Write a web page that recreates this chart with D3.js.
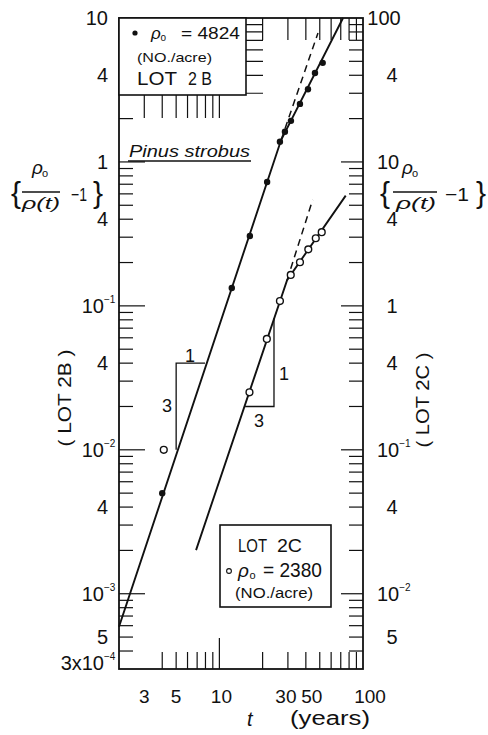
<!DOCTYPE html>
<html>
<head>
<meta charset="utf-8">
<script src="https://d3js.org/d3.v7.min.js"></script>
<style>
    body { margin: 0; background: #fff; }
    svg text { font-family: "Liberation Sans", Arial, sans-serif; fill: #111; }
</style>
</head>
<body>
<div id="chart"></div>
<script>
// LOT 2B (filled dots), read on the left axis
var lot2B_t = [4, 12.2, 16.3, 21.5, 26.4, 28.6, 31.5, 36.4, 41.4, 46.3, 52.4];
var lot2B_v = [0.005, 0.133, 0.306, 0.726, 1.38, 1.62, 1.93, 2.53, 3.2, 4.15, 4.88];
// fitted lines for LOT 2B: solid (two slopes) and dashed slope-3 continuation
var lot2B_line_t = [2, 26.9, 72.6];
var lot2B_line_v = [5.9e-4, 1.42, 10];
var lot2B_dash_t = [26.9, 48.6];
var lot2B_dash_v = [1.42, 7.88];

// LOT 2C (open circles), read on the right axis
var lot2C_t = [4.1, 16.2, 21.4, 26.4, 31.4, 36.4, 41.6, 46.9, 51.6];
var lot2C_v = [0.1, 0.251, 0.589, 1.08, 1.64, 2.01, 2.47, 2.95, 3.25];
var lot2C_line_t = [6.88, 29.6, 75.8];
var lot2C_line_v = [0.0201, 1.51, 5.83];
var lot2C_dash_t = [29.6, 44.6];
var lot2C_dash_v = [1.51, 5.45];

// slope triangles (3 : 1)
var tri2B_t = [5, 5, 7.94];
var tri2B_v = [0.01, 0.04, 0.04];
var tri2C_t = [15.1, 24, 24];
var tri2C_v = [0.2, 0.2, 0.82];

// tick labels
var leftTickVals = [10, 4, 1, 0.4, 0.1, 0.04, 0.01, 0.004, 0.001, 5e-4, 3e-4];
var leftTickText = ["10", "4", "1", "4", "10|−1", "4", "10|−2", "4", "10|−3", "5", "3x10|−4"];
var rightTickVals = [100, 40, 10, 4, 1, 0.4, 0.1, 0.04, 0.01, 0.005];
var rightTickText = ["100", "4", "10", "4", "1", "4", "10|−1", "4", "10|−2", "5"];
var xTickVals = [3, 5, 10, 30, 50, 100];
var xTickText = ["3", "5", "10", "30", "50", "100"];
var topTickVals = [3, 4, 5, 6, 7, 8, 9, 10, 20, 30, 40, 50, 60, 70, 80, 90];
var bottomTickVals = [4, 5, 6, 7, 8, 9, 10, 20, 30, 40, 50, 60, 70, 80, 90];

var W = 488, H = 735;
var L = 119, R = 363, T = 18, B = 669;

var x = d3.scaleLog().domain([2, 100]).range([L, R]);
var yL = d3.scaleLog().domain([3e-4, 10]).range([B, T]);
var yR = d3.scaleLog().domain([3e-3, 100]).range([B, T]);

var svg = d3.select("#chart").append("svg").attr("width", W).attr("height", H);
var ink = "#111";

function decadeTicks(lo, hi) {
    var out = [];
    for (var k = -5; k <= 3; k++) {
        for (var m = 1; m <= 9; m++) {
            var v = +(m * Math.pow(10, k)).toPrecision(3);
            if (v > lo * 1.001 && v < hi * 0.999) out.push({ v: v, m: m, k: k });
        }
    }
    return out;
}

var ticks = svg.append("g").attr("stroke", ink).attr("stroke-width", 1.2);

// left axis ticks (inward)
decadeTicks(3e-4, 10).forEach(function (d) {
    var len = d.m === 1 ? 26 : 14;
    if (d.k === 0 && d.m >= 3) len = 144;   // run under the legend box
    ticks.append("line").attr("x1", L).attr("x2", L + len)
        .attr("y1", yL(d.v)).attr("y2", yL(d.v));
});
// right axis ticks (inward)
decadeTicks(3e-3, 100).forEach(function (d) {
    var len = d.m === 1 ? 22 : 14;
    ticks.append("line").attr("x1", R).attr("x2", R - len)
        .attr("y1", yR(d.v)).attr("y2", yR(d.v));
});
// top ticks
topTickVals.forEach(function (t) {
    var len = t <= 10 ? 100 : 22;
    ticks.append("line").attr("x1", x(t)).attr("x2", x(t)).attr("y1", T).attr("y2", T + len);
});
// bottom ticks
bottomTickVals.forEach(function (t) {
    var len = t === 10 ? 31 : 17;
    ticks.append("line").attr("x1", x(t)).attr("x2", x(t)).attr("y1", B).attr("y2", B - len);
});

// frame
svg.append("rect").attr("x", L).attr("y", T).attr("width", R - L).attr("height", B - T)
    .attr("fill", "none").attr("stroke", ink).attr("stroke-width", 1.8);

// top legend box (covers part of the ticks)
var box1 = svg.append("g");
box1.append("rect").attr("x", L).attr("y", T).attr("width", 127).attr("height", 77)
    .attr("fill", "#fff").attr("stroke", ink).attr("stroke-width", 1.6);
box1.append("circle").attr("cx", 135).attr("cy", 33).attr("r", 2.6).attr("fill", ink);
box1.append("text").attr("x", 151).attr("y", 39).style("font-size", "17px").style("font-style", "italic").text("ρ");
box1.append("text").attr("x", 160.5).attr("y", 41).style("font-size", "10px").text("o");
box1.append("text").attr("x", 181).attr("y", 39).style("font-size", "16px")
    .attr("textLength", 59).attr("lengthAdjust", "spacingAndGlyphs").text("= 4824");
box1.append("text").attr("x", 137).attr("y", 62).style("font-size", "13px")
    .attr("textLength", 75).attr("lengthAdjust", "spacingAndGlyphs").text("(NO./acre)");
box1.append("text").attr("x", 137).attr("y", 85).style("font-size", "18px")
    .attr("textLength", 40).attr("lengthAdjust", "spacingAndGlyphs").text("LOT");
box1.append("text").attr("x", 188).attr("y", 85).style("font-size", "18px")
    .attr("textLength", 24).attr("lengthAdjust", "spacingAndGlyphs").text("2 B");

// bottom legend box
var box2 = svg.append("g");
box2.append("rect").attr("x", 220).attr("y", 525).attr("width", 111).attr("height", 82)
    .attr("fill", "#fff").attr("stroke", ink).attr("stroke-width", 1.6);
box2.append("text").attr("x", 238).attr("y", 552).style("font-size", "19px")
    .attr("textLength", 29).attr("lengthAdjust", "spacingAndGlyphs").text("LOT");
box2.append("text").attr("x", 277).attr("y", 552).style("font-size", "19px")
    .attr("textLength", 25).attr("lengthAdjust", "spacingAndGlyphs").text("2C");
box2.append("circle").attr("cx", 229).attr("cy", 571).attr("r", 2.4)
    .attr("fill", "#fff").attr("stroke", ink).attr("stroke-width", 1.1);
box2.append("text").attr("x", 238).attr("y", 577).style("font-size", "19px").style("font-style", "italic").text("ρ");
box2.append("text").attr("x", 249.5).attr("y", 579).style("font-size", "11px").text("o");
box2.append("text").attr("x", 263).attr("y", 577).style("font-size", "20px")
    .attr("textLength", 59).attr("lengthAdjust", "spacingAndGlyphs").text("= 2380");
box2.append("text").attr("x", 235).attr("y", 598).style("font-size", "14px")
    .attr("textLength", 78).attr("lengthAdjust", "spacingAndGlyphs").text("(NO./acre)");

// Pinus strobus
svg.append("text").attr("x", 129).attr("y", 157).style("font-size", "17px").style("font-style", "italic")
    .attr("textLength", 121).attr("lengthAdjust", "spacingAndGlyphs").text("Pinus strobus");
svg.append("line").attr("x1", 128).attr("x2", 251).attr("y1", 161).attr("y2", 161)
    .attr("stroke", ink).attr("stroke-width", 1.3);

// data lines
function pts(ts, vs, ys) { return ts.map(function (t, i) { return [x(t), ys(vs[i])]; }); }
var line = d3.line();
var lines = svg.append("g").attr("fill", "none").attr("stroke", ink);
lines.append("path").attr("d", line(pts(lot2B_line_t, lot2B_line_v, yL))).attr("stroke-width", 1.9);
lines.append("path").attr("d", line(pts(lot2B_dash_t, lot2B_dash_v, yL))).attr("stroke-width", 1.5)
    .attr("stroke-dasharray", "7,5");
lines.append("path").attr("d", line(pts(lot2C_line_t, lot2C_line_v, yR))).attr("stroke-width", 1.9);
lines.append("path").attr("d", line(pts(lot2C_dash_t, lot2C_dash_v, yR))).attr("stroke-width", 1.5)
    .attr("stroke-dasharray", "7,5");
// slope triangles
lines.append("path").attr("d", line(pts(tri2B_t, tri2B_v, yL))).attr("stroke-width", 1.3);
lines.append("path").attr("d", line(pts(tri2C_t, tri2C_v, yR))).attr("stroke-width", 1.3);

// markers
svg.append("g").selectAll("circle").data(lot2B_t).enter().append("circle")
    .attr("cx", function (d) { return x(d); })
    .attr("cy", function (d, i) { return yL(lot2B_v[i]); })
    .attr("r", 3.2).attr("fill", ink);
svg.append("g").selectAll("circle").data(lot2C_t).enter().append("circle")
    .attr("cx", function (d) { return x(d); })
    .attr("cy", function (d, i) { return yR(lot2C_v[i]); })
    .attr("r", 3.4).attr("fill", "#fff").attr("stroke", ink).attr("stroke-width", 1.4);

// triangle labels
function lab(px, py, s, size) {
    svg.append("text").attr("x", px).attr("y", py).attr("text-anchor", "middle")
        .style("font-size", (size || 18) + "px").text(s);
}
lab(167, 412, "3"); lab(190, 362, "1");
lab(284, 380, "1"); lab(259, 427, "3");

// tick labels: base text plus an optional small exponent after it
function tickLabel(px, py, s, anchor, size) {
    var parts = s.split("|");
    var t = svg.append("text").attr("x", px).attr("y", py).attr("text-anchor", anchor)
        .style("font-size", (size || 20) + "px").text(parts[0]);
    if (parts[1]) {
        var w = t.node().getComputedTextLength();
        var end = anchor === "end" ? px : anchor === "middle" ? px + w / 2 : px + w;
        svg.append("text").attr("x", end).attr("y", py - 10)
            .style("font-size", "10px").text(parts[1]);
    }
}
leftTickVals.forEach(function (v, i) {
    var s = leftTickText[i];
    tickLabel(s.indexOf("|") >= 0 ? 104 : 108, Math.min(yL(v) + 7, 670), s, "end");
});
rightTickVals.forEach(function (v, i) {
    var n = rightTickText[i].split("|")[0].length;
    tickLabel(392 - 4 * (n - 1), yR(v) + 7, rightTickText[i], "middle");
});
var xNudge = { "10": 2, "30": -2, "50": -8, "100": 7 };
xTickVals.forEach(function (t, i) {
    tickLabel(x(t) + (xNudge[xTickText[i]] || 0), 703, xTickText[i], "middle", 19);
});

// axis titles  { rho_o / rho(t) - 1 }
function ratioTitle(p) {
    var g = svg.append("g");
    g.append("text").attr("x", p.b1).attr("y", 203).style("font-size", "30px").text("{");
    g.append("text").attr("x", p.num).attr("y", 174).style("font-size", "19px").style("font-style", "italic").text("ρ");
    g.append("text").attr("x", p.num + 10).attr("y", 177).style("font-size", "11px").text("o");
    g.append("line").attr("x1", p.bar[0]).attr("x2", p.bar[1]).attr("y1", 192).attr("y2", 192)
        .attr("stroke", ink).attr("stroke-width", 1.4);
    g.append("text").attr("x", p.den).attr("y", 209).style("font-size", "16px").style("font-style", "italic")
        .attr("textLength", p.denLen).attr("lengthAdjust", "spacingAndGlyphs").text("ρ(t)");
    g.append("text").attr("x", p.minus).attr("y", 201).style("font-size", "19px")
        .attr("textLength", p.minusLen).attr("lengthAdjust", "spacingAndGlyphs").text("−1");
    g.append("text").attr("x", p.b2).attr("y", 203).style("font-size", "30px").text("}");
}
ratioTitle({ b1: 11, num: 32, bar: [22, 60], den: 22, denLen: 38, minus: 71, minusLen: 16, b2: 93 });
ratioTitle({ b1: 380, num: 402, bar: [393, 437], den: 396, denLen: 40, minus: 445, minusLen: 24, b2: 476 });

svg.append("text").attr("transform", "translate(71,398) rotate(-90)").attr("text-anchor", "middle")
    .style("font-size", "19px").attr("textLength", 97).attr("lengthAdjust", "spacingAndGlyphs").text("( LOT 2B )");
svg.append("text").attr("transform", "translate(429,400) rotate(-90)").attr("text-anchor", "middle")
    .style("font-size", "19px").attr("textLength", 95).attr("lengthAdjust", "spacingAndGlyphs").text("( LOT 2C )");

svg.append("text").attr("x", 247).attr("y", 726).style("font-size", "20px").style("font-style", "italic").text("t");
svg.append("text").attr("x", 290).attr("y", 725).style("font-size", "20px")
    .attr("textLength", 80).attr("lengthAdjust", "spacingAndGlyphs").text("(years)");
</script>
</body>
</html>
